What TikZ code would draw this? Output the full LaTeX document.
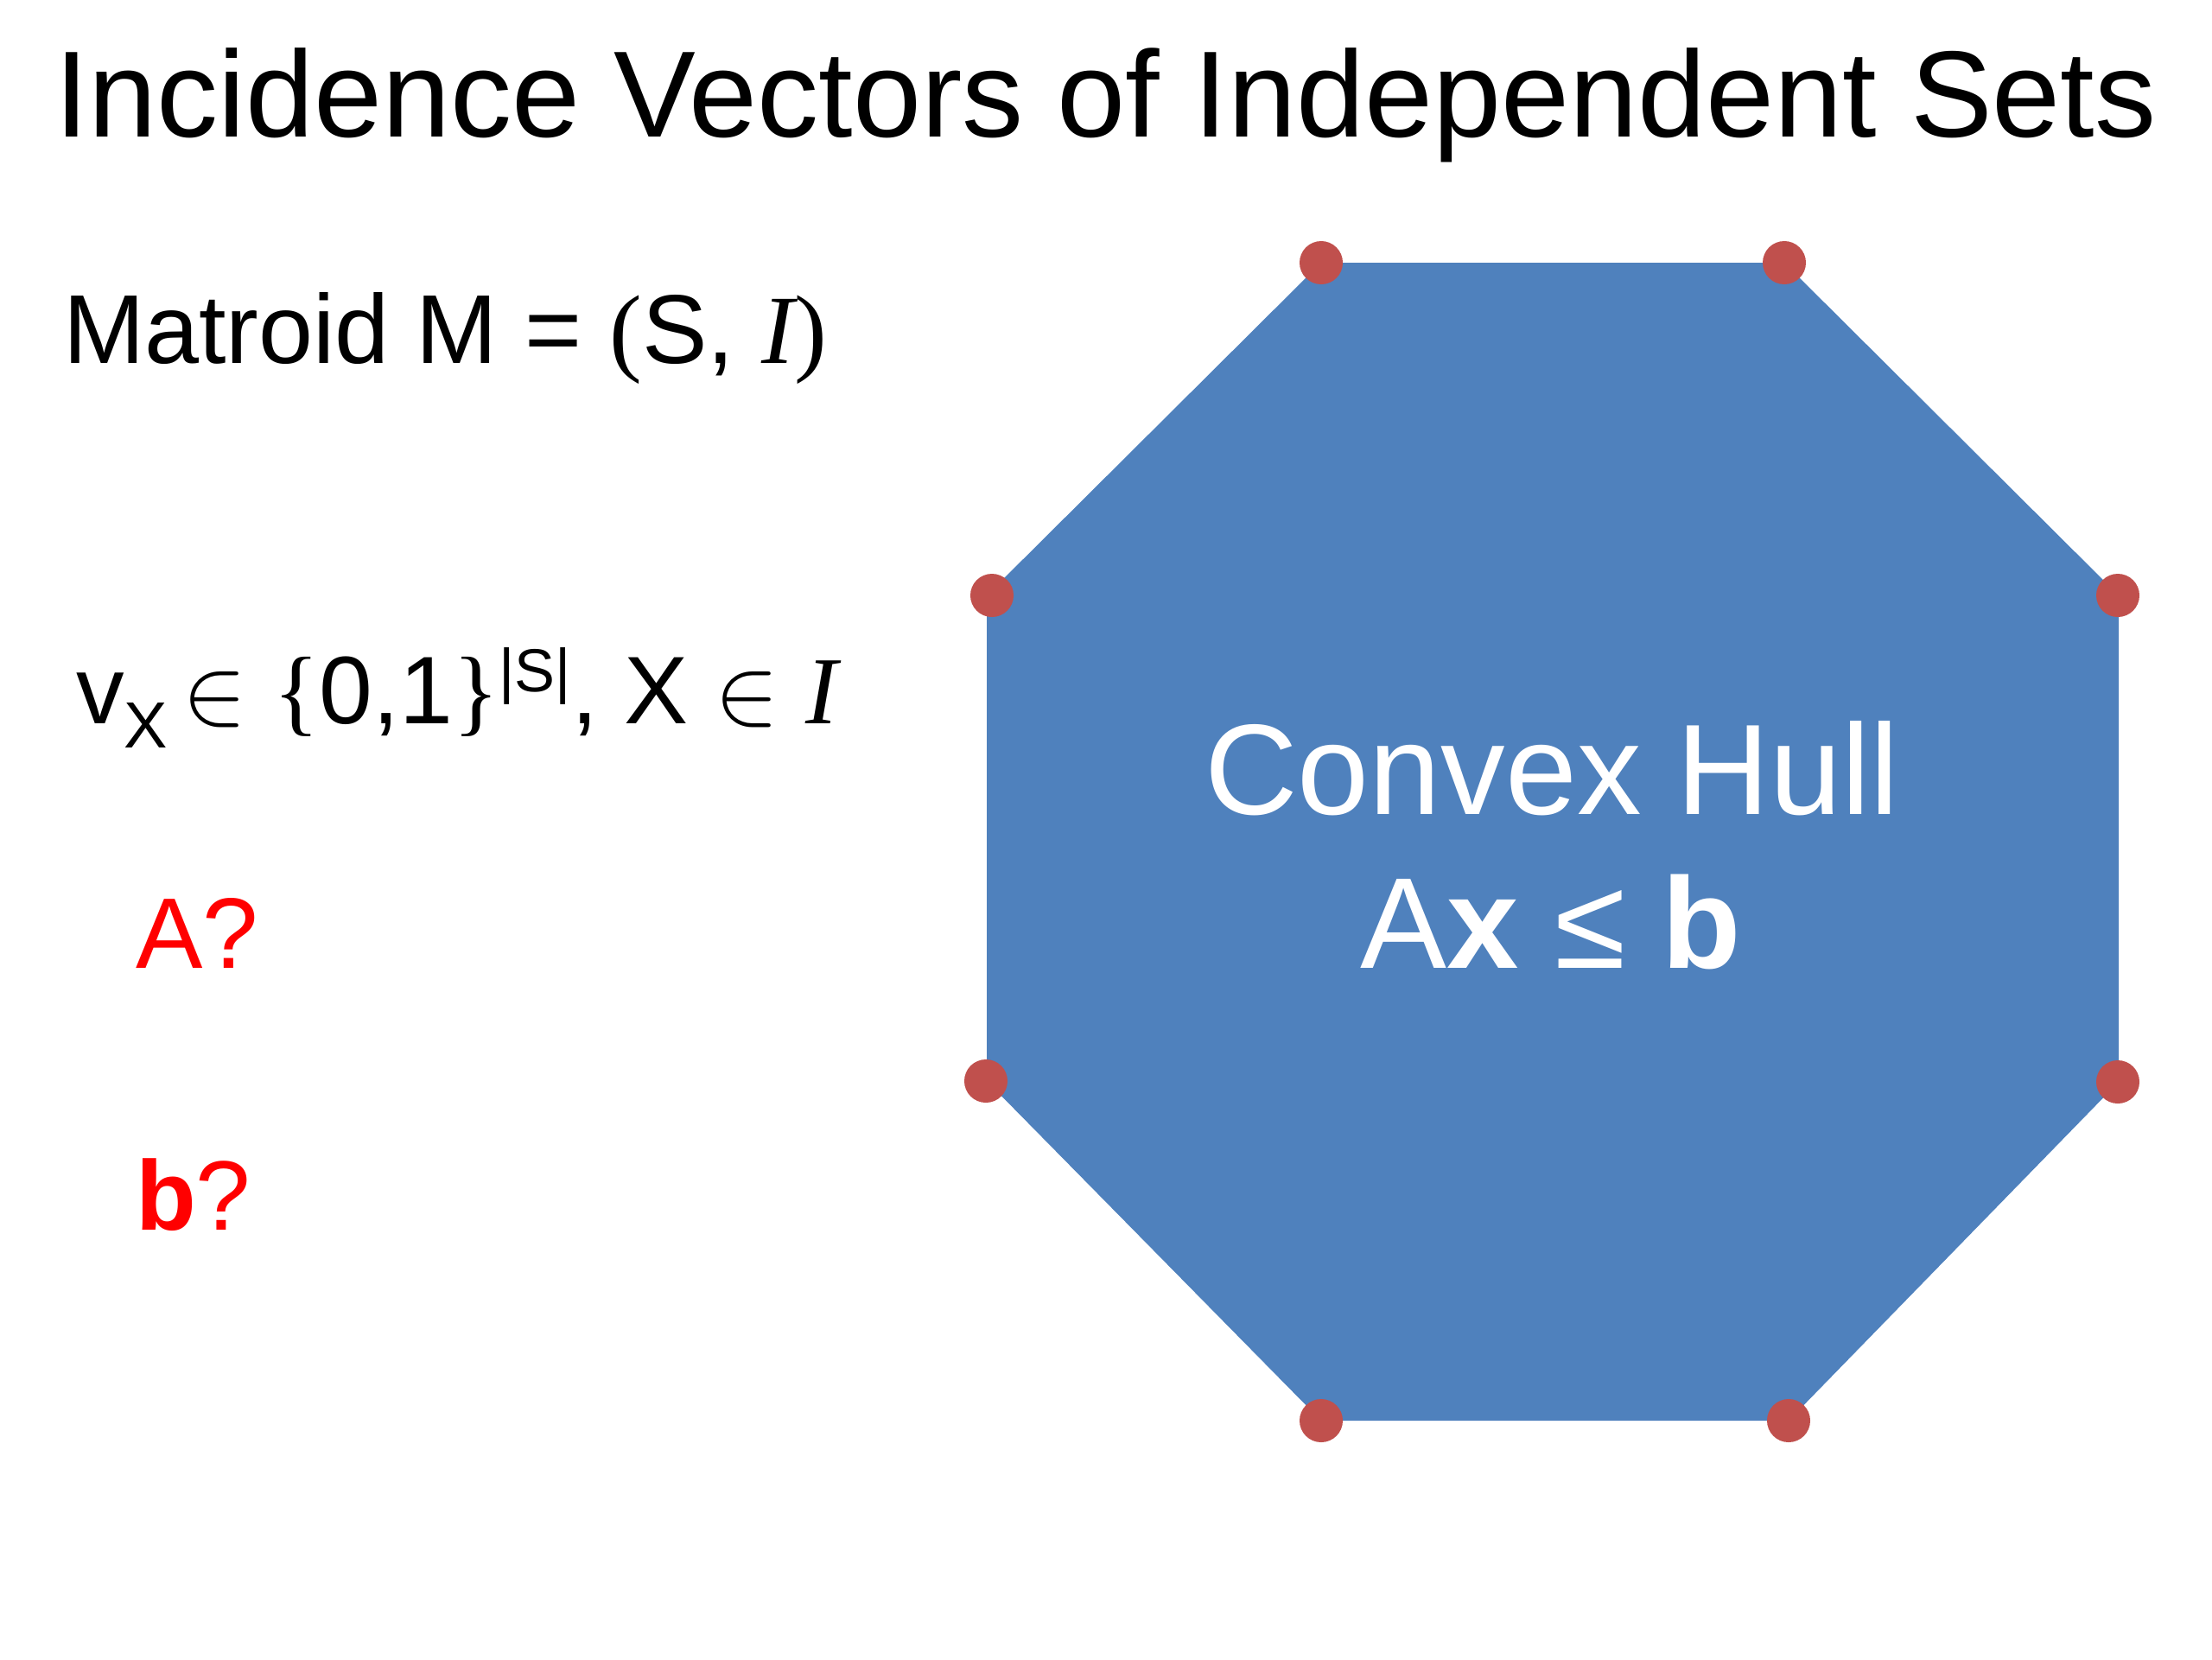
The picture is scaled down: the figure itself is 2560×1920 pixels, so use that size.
\documentclass[tikz,border=0pt]{standalone}
\usepackage{fix-cm}
\usepackage{fontspec}
\setmainfont{Liberation Sans}
\newfontfamily\seriffont{Liberation Serif}
\usepackage{xcolor}
\usetikzlibrary{positioning}

\definecolor{hullblue}{HTML}{4F81BD}
\definecolor{vertred}{HTML}{C0504D}
\newcommand{\indepI}{{\seriffont\itshape I}}
\newcommand{\fsz}[1]{\fontsize{#1}{1.2\dimexpr#1\relax}\selectfont}

\tikzset{
  txt/.style={anchor=base west, inner sep=0pt, outer sep=0pt},
  vert/.style={fill=vertred}
}

\begin{document}
\begin{tikzpicture}[x=0.01cm, y=-0.01cm]
			\useasboundingbox (0,0) rectangle (2560,1920);
			% title and left column
			\node[txt] (title) at (63,158) {\fsz{40.4pt}Incidence Vectors of Independent Sets};
			\node[txt] (matroid) at (73,420) {\fsz{32.2pt}Matroid M = {\seriffont(}S, \indepI{\seriffont)}};
			\node[txt] (incvec) at (88,837) {\fsz{31.6pt}v\raisebox{-8pt}{\fsz{21.5pt}X}\hspace{5pt}$\in$ {\seriffont\{}0,1{\seriffont\}}\raisebox{10.5pt}{\fsz{20pt}|S|}, X $\in$ \indepI};
			\node[txt, text=red] (aq) at (157,1120) {\fsz{33pt}A?};
			\node[txt, text=red] (bq) at (157,1423) {\fsz{32.5pt}\textbf{b}?};
			% the polytope
			\fill[hullblue] (1529,304) -- (2065,304) -- (2452,689) -- (2452,1252)
			-- (2070,1644) -- (1529,1644) -- (1142,1251) -- (1142,689) -- cycle;
			\foreach \x/\y in {1529/304, 2065/304, 2451/689, 2451/1252, 2070/1644, 1529/1644, 1141/1251, 1148/689}
			\fill[vert] (\x,\y) circle (0.25cm);
			\node[anchor=base, inner sep=0pt, text=white] (hull) at (1796,942) {\fsz{42.4pt}Convex Hull};
			\node[anchor=base, inner sep=0pt, text=white] (ineq) at (1795,1120) {\fsz{42.6pt}A\textbf{x} ≤ \textbf{b}};
		\end{tikzpicture}
\end{document}
